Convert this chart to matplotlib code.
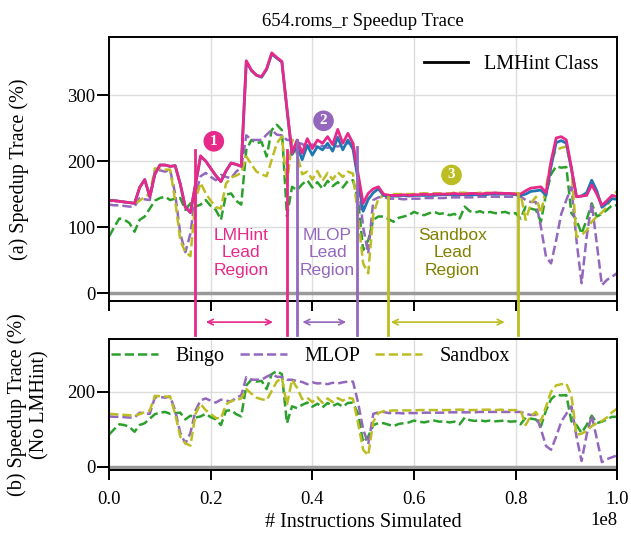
import numpy as np
import matplotlib
matplotlib.use("Agg")
import matplotlib.pyplot as plt

plt.rcParams['font.family'] = 'serif'
plt.rcParams['font.serif'] = ['Liberation Serif', 'DejaVu Serif']

# sample index in millions of instructions
step = np.arange(101)
instr = step * 1e6

lmhint = [140, 140, 139, 138, 137, 136, 160, 172, 146, 180,
          194, 194, 192, 193, 165, 130, 122, 165, 208, 200,
          189, 178, 169, 185, 197, 195, 192, 352, 338, 330,
          328, 340, 364, 357, 351, 280, 212, 232, 212, 234,
          219, 232, 227, 237, 225, 248, 227, 242, 227, 181,
          136, 151, 158, 161, 150, 148, 148, 148, 149, 148,
          149, 149, 150, 149, 150, 150, 150, 150, 151, 150,
          150, 151, 151, 150, 151, 151, 152, 151, 151, 151,
          150, 150, 155, 159, 160, 161, 152, 200, 235, 237,
          232, 190, 146, 147, 148, 164, 150, 133, 140, 148,
          146]
# second LMHint run (blue) - mostly on top of the pink one
lmhint_b = [140, 140, 139, 138, 137, 136, 160, 172, 146, 180,
            194, 194, 192, 193, 165, 130, 122, 165, 207, 200,
            189, 178, 169, 185, 197, 195, 192, 351, 337, 330,
            327, 339, 362, 356, 350, 278, 210, 222, 202, 224,
            209, 222, 217, 227, 215, 236, 217, 232, 218, 172,
            124, 142, 152, 158, 148, 147, 147, 147, 148, 147,
            148, 148, 148, 148, 148, 149, 149, 149, 149, 149,
            149, 149, 149, 149, 149, 150, 150, 150, 150, 150,
            149, 148, 150, 154, 155, 156, 148, 192, 228, 231,
            227, 188, 146, 147, 152, 171, 155, 130, 136, 143,
            142]
bingo = [86, 100, 113, 111, 106, 93, 111, 116, 128, 140,
         144, 146, 141, 143, 144, 126, 136, 131, 134, 141,
         132, 126, 111, 149, 151, 140, 134, 217, 232, 227,
         229, 207, 247, 255, 247, 116, 161, 156, 165, 171,
         160, 168, 158, 170, 162, 168, 160, 170, 171, 141,
         65, 80, 111, 116, 116, 112, 108, 114, 116, 118,
         123, 120, 118, 121, 123, 120, 121, 118, 120, 113,
         131, 124, 122, 124, 121, 123, 121, 122, 123, 120,
         121, 113, 131, 128, 126, 108, 150, 180, 192, 190,
         191, 121, 111, 90, 111, 136, 116, 120, 126, 133,
         133]
mlop = [134, 133, 133, 132, 131, 131, 144, 142, 141, 185,
        186, 184, 187, 150, 90, 62, 90, 150, 177, 182,
        176, 171, 179, 176, 174, 184, 190, 239, 232, 232,
        232, 240, 247, 240, 239, 232, 232, 228, 226, 220,
        225, 222, 223, 220, 224, 222, 225, 227, 227, 171,
        100, 60, 141, 145, 146, 143, 143, 143, 142, 143,
        143, 143, 144, 144, 144, 144, 144, 145, 145, 145,
        145, 145, 145, 146, 146, 146, 146, 146, 146, 146,
        146, 146, 141, 138, 138, 100, 55, 45, 80, 120,
        141, 161, 80, 15, 85, 136, 75, 12, 20, 25,
        30]
sandbox = [141, 140, 139, 138, 137, 136, 140, 146, 150, 189,
           188, 187, 187, 140, 80, 62, 56, 141, 167, 151,
           140, 130, 128, 166, 175, 178, 182, 207, 195, 184,
           180, 177, 202, 227, 237, 165, 232, 210, 180, 184,
           172, 185, 170, 182, 172, 183, 176, 184, 181, 116,
           45, 30, 120, 143, 148, 149, 150, 150, 150, 150,
           150, 151, 151, 151, 151, 151, 151, 151, 152, 152,
           152, 151, 151, 152, 152, 152, 151, 152, 151, 151,
           151, 150, 111, 135, 146, 121, 160, 200, 217, 220,
           222, 190, 85, 88, 95, 108, 116, 122, 131, 145,
           155]

# lead regions: (start, end) in millions of instructions
lead_regions = [(16.9, 35.1), (37.0, 48.7), (54.9, 80.5)]
region_names = ['LMHint\nLead\nRegion', 'MLOP\nLead\nRegion', 'Sandbox\nLead\nRegion']

pink = '#e7298a'
blue = '#1f77b4'
green = '#2ca02c'
purple = '#9467bd'
olive = '#bcbd22'

fig = plt.figure(figsize=(6.31, 5.37), dpi=100)
ax1 = fig.add_axes([0.173, 0.4395, 0.805, 0.4916])
ax2 = fig.add_axes([0.173, 0.1248, 0.805, 0.2434], sharex=ax1)

for ax in (ax1, ax2):
    ax.grid(True, color='#dddddd', lw=1)
    ax.set_axisbelow(True)
    ax.axhline(0, color='#999999', lw=2.5, zorder=1)
    for s in ax.spines.values():
        s.set_linewidth(1.4)
    ax.tick_params(axis='x', labelsize=13.5, width=1.4, length=7, pad=8)
    ax.tick_params(axis='y', labelsize=13.5, width=1.4, length=8.5, pad=1.5)

ax1.plot(instr, bingo, '--', color=green, lw=1.8)
ax1.plot(instr, mlop, '--', color=purple, lw=1.8)
ax1.plot(instr, sandbox, '--', color=olive, lw=1.8)
ax1.plot(instr, lmhint_b, '-', color=blue, lw=2)
ax1.plot(instr, lmhint, '-', color=pink, lw=2, label='LMHint Class')

ax1.set_xlim(0, 1e8)
ax1.set_ylim(-12, 388)
ax1.set_yticks([0, 100, 200, 300])
ax1.tick_params(labelbottom=False)
ax1.set_ylabel('(a) Speedup Trace (%)', fontsize=14.5)
ax1.yaxis.set_label_coords(-0.157, 0.5)
ax1.set_title('654.roms_r Speedup Trace', fontsize=13.5, pad=8)

leg_line, = ax1.plot([], [], '-', color='black', lw=2)
ax1.legend([leg_line], ['LMHint Class'], loc='upper right', frameon=False,
           fontsize=14.5, handlelength=2.2, handletextpad=0.8)

# lead region markers
col_lines = [pink, purple, olive]
col_text = [pink, purple, '#808000']
tops = [(217, 217), (232, 222), (146, 151)]
arrows = [(18.5, 32.8), (37.5, 47.2), (54.9, 78.4)]
text_x = [26.0, 43.0, 67.6]
for k in range(3):
    a, b = lead_regions[k]
    for xv, yt in zip((a, b), tops[k]):
        ax1.plot([xv * 1e6, xv * 1e6], [yt, -64], color=col_lines[k], lw=2,
                 clip_on=False, zorder=5)
    ax1.annotate('', xy=(arrows[k][1] * 1e6, -44), xytext=(arrows[k][0] * 1e6, -44),
                 arrowprops=dict(arrowstyle='<->', color=col_lines[k], lw=1.2),
                 annotation_clip=False)
    ax1.text(text_x[k] * 1e6, 61, region_names[k], color=col_text[k],
             ha='center', va='center', fontsize=12.5, family='Liberation Sans')

badges = [('1', 20.6, 230, pink), ('2', 42.2, 261, purple), ('3', 67.4, 179, olive)]
for lab, bx, by, c in badges:
    ax1.text(bx * 1e6, by, lab, color='white', fontsize=11, fontweight='bold',
             ha='center', va='center', zorder=6,
             bbox=dict(boxstyle='circle,pad=0.25', fc=c, ec='none'))

ax2.plot(instr, bingo, '--', color=green, lw=1.8, label='Bingo')
ax2.plot(instr, mlop, '--', color=purple, lw=1.8, label='MLOP')
ax2.plot(instr, sandbox, '--', color=olive, lw=1.8, label='Sandbox')
ax2.set_ylim(-9, 340)
ax2.set_yticks([0, 200])
ax2.set_ylabel('(b) Speedup Trace (%)\n(No LMHint)', fontsize=14.5)
ax2.yaxis.set_label_coords(-0.118, 0.5)
ax2.set_xlabel('# Instructions Simulated', fontsize=14.5)
ax2.xaxis.get_offset_text().set_fontsize(13.5)
ax2.legend(loc='upper left', ncol=3, frameon=False, fontsize=14.5,
           handlelength=2.35, handletextpad=0.85, columnspacing=0.75,
           bbox_to_anchor=(-0.012, 1.0), borderaxespad=0)

fig.savefig('out.png', dpi=100)
